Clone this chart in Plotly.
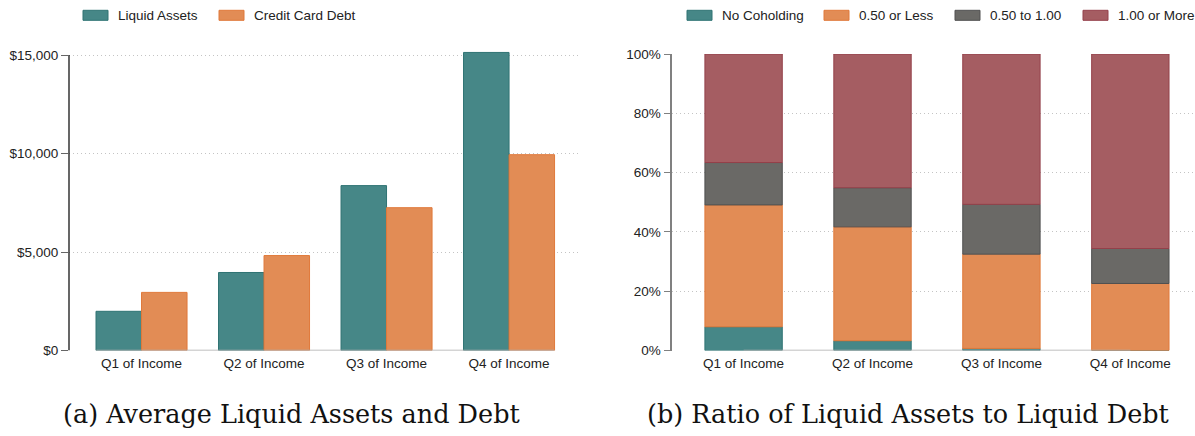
import numpy as np
import plotly.graph_objects as go

W, H = 1195, 436

categories = ["Q1 of Income", "Q2 of Income", "Q3 of Income", "Q4 of Income"]

# Panel (a): average liquid assets and credit card debt ($)
liquid_assets = [1990, 3960, 8370, 15130]
credit_card_debt = [2950, 4820, 7250, 9940]
left_names = ["Liquid Assets", "Credit Card Debt"]
left_ticks = [0, 5000, 10000, 15000]
left_tick_labels = ["$0", "$5,000", "$10,000", "$15,000"]

# Panel (b): share of households by ratio of liquid assets to liquid debt (%)
no_coholding = [8.0, 3.3, 0.7, 0.0]
half_or_less = [41.1, 38.4, 31.8, 22.6]
half_to_one = [14.3, 13.2, 16.8, 11.8]
one_or_more = [36.6, 45.1, 50.7, 65.6]
right_names = ["No Coholding", "0.50 or Less", "0.50 to 1.00", "1.00 or More"]
right_ticks = [0, 20, 40, 60, 80, 100]
right_tick_labels = ["0%", "20%", "40%", "60%", "80%", "100%"]

captions = ["(a) Average Liquid Assets and Debt", "(b) Ratio of Liquid Assets to Liquid Debt"]

TEAL, TEAL_L = "#468787", "#2f7373"
ORANGE, ORANGE_L = "#e28c55", "#e0793a"
GRAY, GRAY_L = "#6a6966", "#505050"
RED, RED_L = "#a55d62", "#94404a"

FONT = "Liberation Sans, Arial, sans-serif"
FS = 13.5


def px_x(p):
    return p / W


def px_y(p):
    return 1 - p / H


fig = go.Figure()

for name, vals, col, lcol in [(left_names[0], liquid_assets, TEAL, TEAL_L),
                              (left_names[1], credit_card_debt, ORANGE, ORANGE_L)]:
    fig.add_trace(go.Bar(x=categories, y=vals, name=name,
                         marker=dict(color=col, line=dict(color=lcol, width=1)),
                         xaxis="x", yaxis="y", showlegend=False))

stack = np.zeros(len(categories))
for name, vals, col, lcol in [(right_names[0], no_coholding, TEAL, TEAL_L),
                              (right_names[1], half_or_less, ORANGE, ORANGE_L),
                              (right_names[2], half_to_one, GRAY, GRAY_L),
                              (right_names[3], one_or_more, RED, RED_L)]:
    fig.add_trace(go.Bar(x=categories, y=vals, base=stack.copy(), name=name,
                         width=0.6, offset=-0.3,
                         marker=dict(color=col, line=dict(color=lcol, width=1)),
                         xaxis="x2", yaxis="y2", showlegend=False))
    stack = stack + np.array(vals)

tickfont = dict(family=FONT, size=FS, color="#222")
GRID = dict(showgrid=True, gridcolor="#c4c4c4", griddash="1px,3px", gridwidth=1, zeroline=False)

# left panel: 0 at y=350.5px, 15000 at y=55px
top_left = 15200
y_top_px = 350.5 - (350.5 - 55) * top_left / 15000

fig.update_layout(
    template="none",
    width=W, height=H, margin=dict(l=0, r=0, t=0, b=0, pad=0), autosize=False,
    paper_bgcolor="white", plot_bgcolor="white",
    barmode="group", bargap=0.257, bargroupgap=0,
    showlegend=False,
    xaxis=dict(domain=[px_x(69), px_x(579)], range=[-0.592, 3.571], showgrid=False, ticks="",
               showline=False, tickfont=tickfont, anchor="y", fixedrange=True, automargin=False,
               ticklabelstandoff=3),
    yaxis=dict(domain=[px_y(350.5), px_y(y_top_px)], range=[0, top_left], tickmode="array",
               tickvals=left_ticks, ticktext=left_tick_labels,
               showline=False,
               ticks="outside", ticklen=7, tickcolor="#666", tickfont=tickfont,
               anchor="x", fixedrange=True, automargin=False, **GRID),
    xaxis2=dict(domain=[px_x(672.3), px_x(1193)], range=[-0.553, 3.486], showgrid=False, ticks="",
                showline=False, tickfont=tickfont, anchor="y2", fixedrange=True, automargin=False,
                ticklabelstandoff=3),
    yaxis2=dict(domain=[px_y(350.5), px_y(54)], range=[0, 100], tickmode="array",
                tickvals=right_ticks, ticktext=right_tick_labels,
                showline=True, linecolor="#808080", linewidth=1.5,
                ticks="outside", ticklen=7, tickcolor="#808080", tickfont=tickfont,
                anchor="x2", fixedrange=True, automargin=False, **GRID),
)

# left axis line spans 0..15000 only
fig.add_shape(type="line", xref="x domain", yref="y", x0=0, x1=0, y0=0, y1=15000,
              line=dict(color="#000", width=1.2))
# baselines
fig.add_shape(type="line", xref="x", yref="y", x0=-0.37, x1=3.37, y0=0, y1=0,
              line=dict(color="#aaaaaa", width=1.5))
fig.add_shape(type="line", xref="x2", yref="y2", x0=0, x1=3, y0=0, y1=0,
              line=dict(color="#aaaaaa", width=1.5))


def legend(items, xs, y_px=15.3):
    for (name, col, lcol), x in zip(items, xs):
        fig.add_shape(type="rect", xref="paper", yref="paper",
                      x0=px_x(x), x1=px_x(x + 25), y0=px_y(y_px + 5), y1=px_y(y_px - 5),
                      fillcolor=col, line=dict(color=lcol, width=1))
        fig.add_annotation(xref="paper", yref="paper", x=px_x(x + 33), y=px_y(y_px),
                           text=name, showarrow=False, xanchor="left", yanchor="middle",
                           font=dict(family=FONT, size=FS, color="#222"))


legend([(left_names[0], TEAL, TEAL_L), (left_names[1], ORANGE, ORANGE_L)], [83, 219])
legend([(right_names[0], TEAL, TEAL_L), (right_names[1], ORANGE, ORANGE_L),
        (right_names[2], GRAY, GRAY_L), (right_names[3], RED, RED_L)], [687, 824, 955, 1083])

for cap, xc in zip(captions, [291, 908]):
    fig.add_annotation(xref="paper", yref="paper", x=px_x(xc), y=px_y(414), text=cap,
                       showarrow=False, xanchor="center", yanchor="middle",
                       font=dict(family="DejaVu Serif, Liberation Serif, serif", size=25.5, color="#111"))

fig.write_html("out.html", config={"displayModeBar": False, "responsive": False},
               post_script="document.body.style.margin='0';document.body.style.overflow='hidden';")
